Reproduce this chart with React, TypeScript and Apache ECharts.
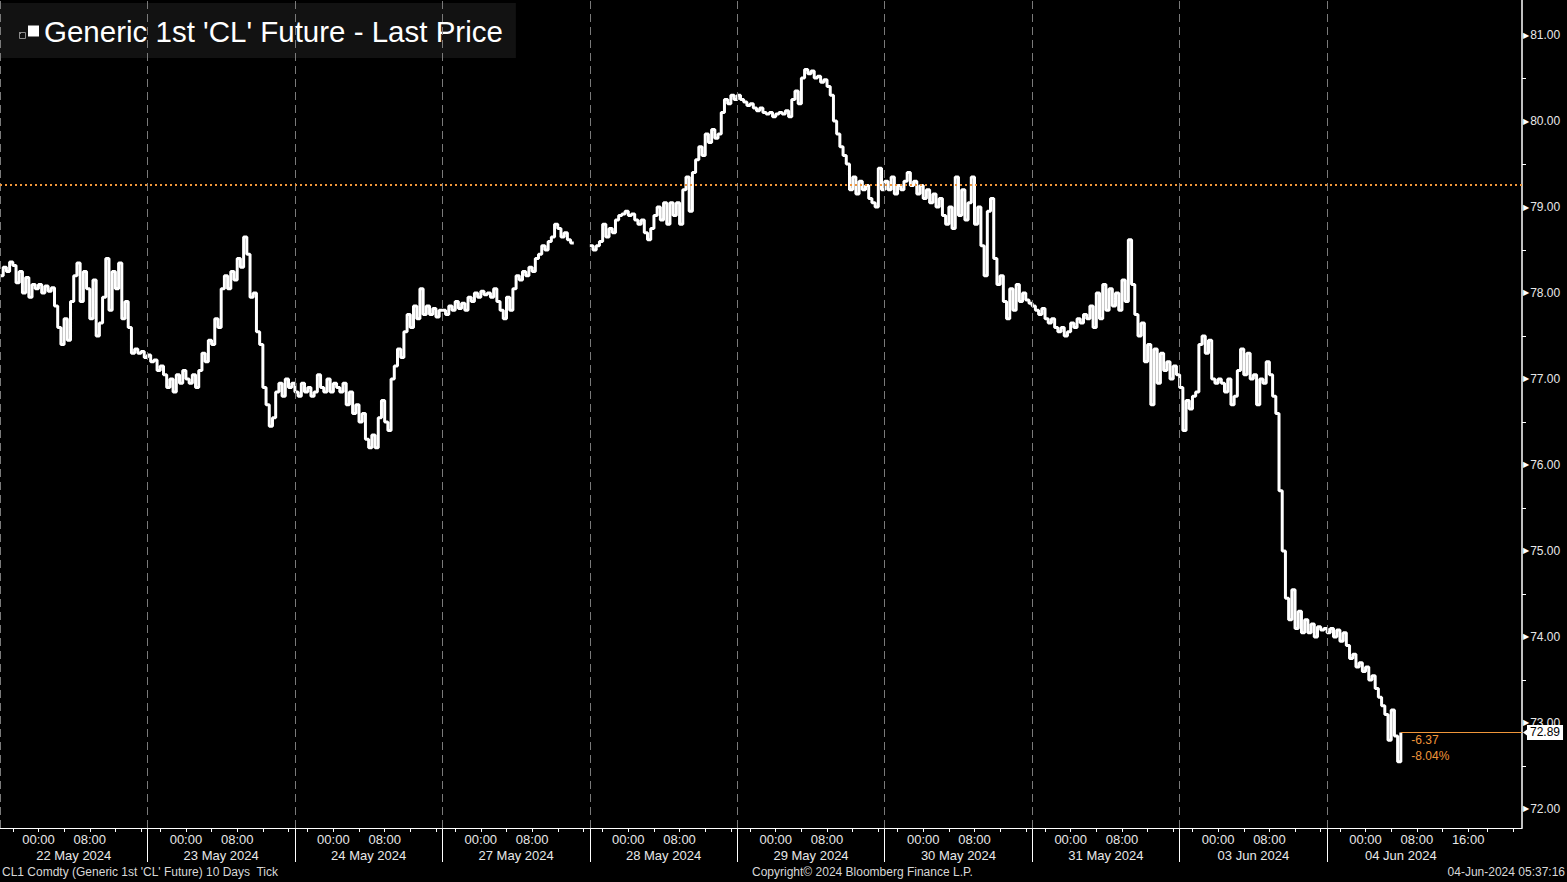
import React, { useEffect, useRef } from "react";
import * as echarts from "echarts";

// ---- data ----
const SERIES_NAME = "Generic 1st 'CL' Future - Last Price";
const DAY_LABELS = [
  "22 May 2024", "23 May 2024", "24 May 2024", "27 May 2024", "28 May 2024",
  "29 May 2024", "30 May 2024", "31 May 2024", "03 Jun 2024", "04 Jun 2024",
];
const SESSION_HOURS = 23; // each trading session, from 18:00
const SESSION_START_CLOCK = 18;
const SAMPLE_STEP = 0.5; // hours between samples

const day22May = [78.20, 78.30, 78.25, 78.36, 78.32, 78.12, 78.25, 78.00, 78.18, 77.95, 78.10, 78.05, 78.10, 78.00, 78.08, 78.02, 78.06, 77.85, 77.60, 77.40, 77.70, 77.45, 77.90, 78.20, 78.35, 77.90, 78.25, 78.05, 77.70, 78.15, 77.50, 77.65, 77.95, 78.40, 77.80, 78.25, 78.05, 78.35, 77.70, 77.90, 77.60, 77.30, 77.35, 77.30, 77.32, 77.25];
const day23May = [77.28, 77.20, 77.22, 77.10, 77.15, 77.05, 76.90, 77.00, 76.85, 77.05, 76.95, 77.10, 77.00, 76.95, 77.05, 76.90, 77.10, 77.30, 77.20, 77.45, 77.40, 77.70, 77.60, 78.05, 78.20, 78.05, 78.25, 78.15, 78.40, 78.30, 78.65, 78.45, 77.95, 78.00, 77.55, 77.40, 76.90, 76.70, 76.45, 76.55, 76.85, 76.95, 76.80, 77.00, 76.90, 76.95];
const day24May = [76.85, 76.80, 76.95, 76.85, 76.90, 76.80, 76.85, 77.05, 76.90, 76.85, 77.00, 76.85, 76.95, 76.90, 76.85, 76.95, 76.70, 76.85, 76.60, 76.70, 76.50, 76.60, 76.30, 76.20, 76.35, 76.20, 76.55, 76.75, 76.50, 76.40, 77.00, 77.15, 77.35, 77.25, 77.55, 77.75, 77.60, 77.85, 77.70, 78.05, 77.75, 77.85, 77.75, 77.82, 77.72, 77.80];
const day27May = [77.80, 77.75, 77.85, 77.80, 77.90, 77.82, 77.88, 77.80, 77.95, 77.90, 78.00, 77.95, 78.02, 77.98, 78.00, 77.95, 78.05, 77.90, 77.80, 77.70, 77.95, 77.80, 78.05, 78.20, 78.15, 78.25, 78.20, 78.30, 78.25, 78.40, 78.45, 78.55, 78.50, 78.60, 78.65, 78.80, 78.75, 78.65, 78.70, 78.62, 78.58];
const day28May = [78.55, 78.50, 78.55, 78.60, 78.80, 78.65, 78.75, 78.70, 78.85, 78.90, 78.92, 78.95, 78.90, 78.92, 78.85, 78.80, 78.85, 78.70, 78.62, 78.75, 78.90, 79.00, 78.85, 79.05, 78.80, 79.05, 78.90, 79.05, 78.80, 79.20, 79.35, 78.95, 79.40, 79.55, 79.70, 79.60, 79.85, 79.75, 79.90, 79.80, 79.85, 80.10, 80.25, 80.20, 80.30, 80.25];
const day29May = [80.30, 80.25, 80.22, 80.18, 80.20, 80.15, 80.12, 80.15, 80.10, 80.08, 80.10, 80.05, 80.08, 80.10, 80.08, 80.12, 80.05, 80.25, 80.35, 80.20, 80.50, 80.60, 80.55, 80.58, 80.50, 80.52, 80.45, 80.48, 80.40, 80.30, 80.00, 79.85, 79.70, 79.60, 79.50, 79.20, 79.35, 79.15, 79.30, 79.20, 79.25, 79.10, 79.05, 79.00, 79.45, 79.20];
const day30May = [79.30, 79.20, 79.35, 79.15, 79.25, 79.20, 79.30, 79.40, 79.25, 79.30, 79.15, 79.25, 79.10, 79.20, 79.05, 79.15, 79.00, 79.10, 78.90, 78.80, 79.00, 78.75, 79.35, 78.90, 79.20, 78.85, 79.05, 79.35, 78.80, 79.00, 78.55, 78.20, 78.95, 79.10, 78.40, 78.10, 78.20, 77.90, 77.70, 78.05, 77.80, 78.10, 77.90, 78.00, 77.92, 77.88];
const day31May = [77.85, 77.80, 77.75, 77.82, 77.70, 77.65, 77.70, 77.60, 77.55, 77.60, 77.50, 77.55, 77.65, 77.60, 77.70, 77.65, 77.75, 77.70, 77.85, 77.60, 78.00, 77.70, 78.10, 77.80, 78.05, 77.85, 78.00, 77.80, 78.15, 77.90, 78.62, 78.10, 77.75, 77.50, 77.65, 77.20, 77.40, 76.70, 77.35, 76.95, 77.30, 77.10, 77.20, 77.00, 77.15, 77.05];
const day03Jun = [76.90, 76.40, 76.75, 76.65, 76.80, 76.85, 77.40, 77.50, 77.30, 77.45, 77.00, 76.95, 77.00, 76.95, 76.85, 77.00, 76.70, 76.80, 77.10, 77.35, 77.05, 77.30, 77.00, 77.05, 76.70, 77.00, 76.95, 77.20, 77.05, 76.80, 76.60, 75.70, 75.00, 74.45, 74.20, 74.55, 74.10, 74.30, 74.05, 74.20, 74.05, 74.15, 74.00, 74.12, 74.08, 74.10];
const day04Jun = [74.05, 74.10, 74.00, 74.08, 73.95, 74.05, 73.90, 73.75, 73.80, 73.65, 73.70, 73.60, 73.65, 73.50, 73.55, 73.40, 73.30, 73.20, 73.10, 72.80, 73.15, 72.85, 72.55, 72.89];

const DAYS = [day22May, day23May, day24May, day27May, day28May, day29May, day30May, day31May, day03Jun, day04Jun];
const SHORT_SESSION_INDEX = 3; // 27 May: holiday, data gap after close

const PREV_CLOSE = 79.26;
const LAST_PRICE = 72.89;
const NET_CHANGE = "-6.37";
const PCT_CHANGE = "-8.04%";
const Y_LABEL_VALUES = [72, 73, 74, 75, 76, 77, 78, 79, 80, 81];
const Y_MIN = 71.779;
const Y_MAX = 81.407;
const X_MAX = 237.4; // hours of trading time shown

const FOOTER_LEFT = "CL1 Comdty (Generic 1st 'CL' Future) 10 Days  Tick";
const FOOTER_MID = "Copyright\u00A9 2024 Bloomberg Finance L.P.";
const FOOTER_RIGHT = "04-Jun-2024 05:37:16";

const ORANGE = "#f0963a";
const FONT = "'Liberation Sans', Arial, sans-serif";

function buildData() {
  const out: any[] = [];
  DAYS.forEach((arr, d) => {
    arr.forEach((p, i) => out.push([d * SESSION_HOURS + i * SAMPLE_STEP, p]));
    if (d === SHORT_SESSION_INDEX) out.push([d * SESSION_HOURS + arr.length * SAMPLE_STEP, "-"]);
  });
  return out;
}

export default function App() {
  const ref = useRef<HTMLDivElement>(null);
  useEffect(() => {
    document.body.style.margin = "0";
    document.body.style.background = "#000";
    const chart = echarts.init(ref.current!, undefined, { renderer: "svg" });
    const data = buildData();
    const lastX = (DAYS.length - 1) * SESSION_HOURS + (day04Jun.length - 1) * SAMPLE_STEP;

    const nDays = DAYS.length;
    const tickVals: number[] = [];
    for (let d = 0; d <= nDays; d++) {
      for (let o = 2; o < SESSION_HOURS; o += 4) {
        const v = d * SESSION_HOURS + o;
        if (v < X_MAX) tickVals.push(v);
      }
    }
    const timeLabelVals: number[] = [];
    for (let d = 0; d < nDays; d++) {
      timeLabelVals.push(d * SESSION_HOURS + 6, d * SESSION_HOURS + 14);
    }
    timeLabelVals.push((nDays - 1) * SESSION_HOURS + 22);
    const dayCenters = DAYS.map((_, d) => d * SESSION_HOURS + SESSION_HOURS / 2);
    const separators = DAYS.slice(1).map((_, d) => (d + 1) * SESSION_HOURS);
    const gridDays = DAYS.map((_, d) => d * SESSION_HOURS);
    const halfTicks: number[] = [];
    for (let v = 72.5; v <= 81.5; v += 1) halfTicks.push(v);
    halfTicks.unshift(71.5);

    const pad = (n: number) => (n < 10 ? "0" + n : "" + n);
    const clockLabel = (v: number) => {
      const off = v - SESSION_HOURS * Math.floor(v / SESSION_HOURS);
      const h = Math.round(SESSION_START_CLOCK + off) % 24;
      return pad(h) + ":00";
    };

    chart.setOption({
      animation: false,
      backgroundColor: "#000",
      textStyle: { fontFamily: FONT },
      grid: { left: 0, right: 45, top: 0, bottom: 54, containLabel: false },
      legend: {
        data: [{ name: SERIES_NAME, icon: "rect" }],
        left: 0,
        top: 3,
        padding: [13, 13, 12, 28],
        itemWidth: 11,
        itemHeight: 11,
        backgroundColor: "#121212",
        textStyle: { color: "#ffffff", fontSize: 29.5, fontFamily: FONT, padding: [2, 0, 0, 0] },
        selectedMode: false,
      },
      xAxis: [
        {
          type: "value",
          min: 0,
          max: X_MAX,
          position: "bottom",
          axisLine: { show: true, onZero: false, lineStyle: { color: "#ffffff", width: 1 } },
          axisTick: { show: true, customValues: tickVals, length: 4, lineStyle: { color: "#ffffff" } },
          axisLabel: {
            show: true,
            customValues: timeLabelVals,
            formatter: (v: number) => clockLabel(v),
            color: "#e8e8e8",
            fontSize: 13,
            margin: 5,
            fontFamily: FONT,
          },
          splitLine: { show: false },
        },
        {
          type: "value",
          min: 0,
          max: X_MAX,
          position: "bottom",
          offset: 0,
          axisLine: { show: false, onZero: false },
          axisTick: { show: true, customValues: separators, length: 34, lineStyle: { color: "#ffffff" } },
          axisLabel: {
            show: true,
            customValues: dayCenters,
            formatter: (v: number) => DAY_LABELS[Math.floor(v / SESSION_HOURS)],
            color: "#e8e8e8",
            fontSize: 13,
            margin: 21,
            fontFamily: FONT,
          },
          splitLine: { show: false },
        },
      ],
      yAxis: {
        type: "value",
        position: "right",
        min: Y_MIN,
        max: Y_MAX,
        axisLine: { show: true, onZero: false, lineStyle: { color: "#ffffff", width: 1.5 } },
        axisTick: { show: true, customValues: halfTicks, length: 4, lineStyle: { color: "#ffffff" } },
        axisLabel: {
          show: true,
          customValues: Y_LABEL_VALUES,
          margin: 1,
          formatter: (v: number) => `{t|\u25B6}{v|${v.toFixed(2)}}`,
          rich: {
            t: { fontSize: 8, color: "#ffffff", fontFamily: "DejaVu Sans", padding: [0, 1, 0, 0] },
            v: { fontSize: 12, color: "#e8e8e8", fontFamily: FONT },
          },
        },
        splitLine: { show: false },
      },
      series: [
        {
          name: SERIES_NAME,
          type: "line",
          data,
          step: "end",
          showSymbol: false,
          symbol: "none",
          connectNulls: false,
          color: "#ffffff",
          lineStyle: { color: "#ffffff", width: 3 },
          markLine: {
            silent: true,
            symbol: "none",
            animation: false,
            data: [
              ...gridDays.map((x) => ({
                xAxis: x,
                lineStyle: { color: "#7a7a7a", type: [8, 5], width: 1 },
                label: { show: false },
              })),
              {
                yAxis: PREV_CLOSE,
                lineStyle: { color: ORANGE, type: [2, 3], width: 2 },
                label: { show: false },
              },
              [
                {
                  coord: [lastX, LAST_PRICE],
                  lineStyle: { color: ORANGE, type: "solid", width: 1 },
                  label: {
                    show: true,
                    position: "end",
                    formatter: LAST_PRICE.toFixed(2),
                    backgroundColor: "#ffffff",
                    color: "#000000",
                    fontSize: 12,
                    padding: [2, 3, 1, 3],
                    distance: 5,
                    fontFamily: FONT,
                  },
                },
                { coord: [X_MAX, LAST_PRICE] },
              ],
            ],
          },
          markPoint: {
            silent: true,
            animation: false,
            data: [
              {
                coord: [X_MAX, LAST_PRICE],
                symbol: "triangle",
                symbolRotate: 90,
                symbolSize: [9, 6],
                symbolOffset: [4, 0],
                itemStyle: { color: "#ffffff" },
                label: { show: false },
              },
              {
                coord: [lastX, LAST_PRICE],
                symbol: "circle",
                symbolSize: 1,
                itemStyle: { color: "rgba(0,0,0,0)" },
                label: {
                  show: true,
                  position: "right",
                  distance: 10,
                  offset: [0, 16],
                  formatter: `${NET_CHANGE}\n${PCT_CHANGE}`,
                  color: ORANGE,
                  fontSize: 12,
                  lineHeight: 16,
                  align: "left",
                  fontFamily: FONT,
                },
              },
            ],
          },
        },
      ],
      graphic: [
        {
          type: "rect",
          left: 17,
          top: 30,
          shape: { width: 6, height: 6 },
          style: { fill: "none", stroke: "#8a8a8a", lineWidth: 1 },
          z: 100,
        },
        {
          type: "rect",
          left: 19,
          top: 32,
          shape: { width: 2, height: 2 },
          style: { fill: "#8a8a8a" },
          z: 100,
        },
        {
          type: "text",
          left: 2,
          top: 866,
          style: { text: FOOTER_LEFT, fill: "#d8d8d8", font: `12px ${FONT}` },
        },
        {
          type: "text",
          left: 752,
          top: 866,
          style: { text: FOOTER_MID, fill: "#d8d8d8", font: `12px ${FONT}` },
        },
        {
          type: "text",
          right: 2,
          top: 866,
          style: { text: FOOTER_RIGHT, fill: "#d8d8d8", font: `12px ${FONT}` },
        },
      ],
    });
    return () => chart.dispose();
  }, []);
  return <div ref={ref} style={{ width: 1567, height: 882, background: "#000" }} />;
}
